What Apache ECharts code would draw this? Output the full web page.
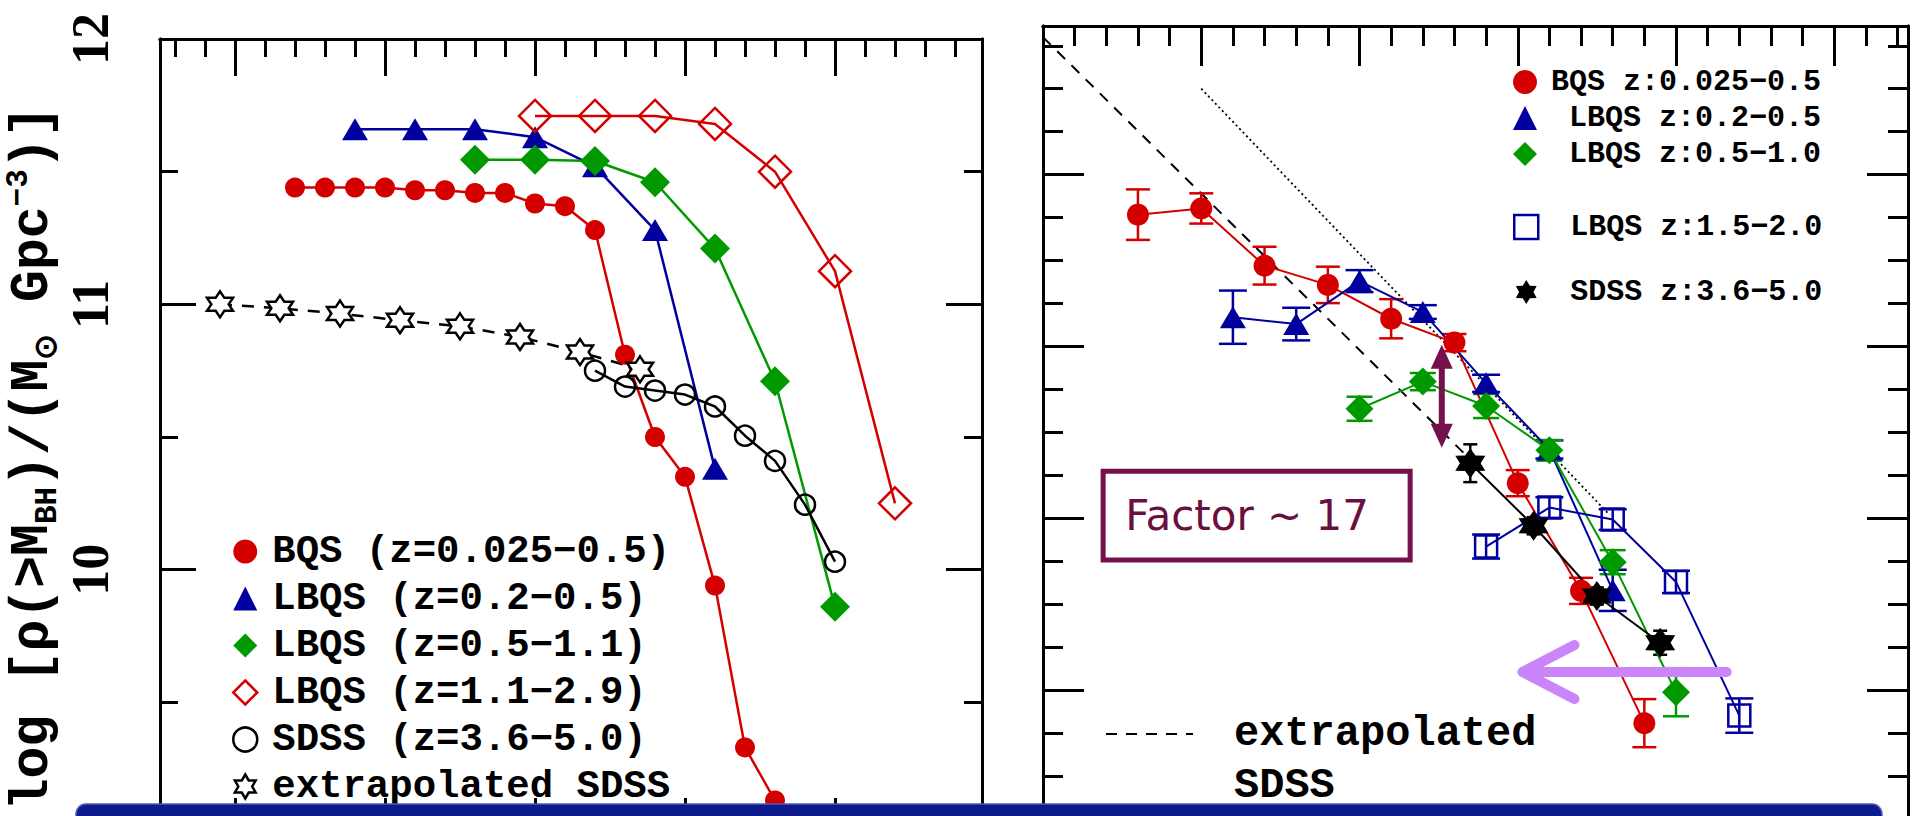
<!DOCTYPE html>
<html><head><meta charset="utf-8">
<script src="https://cdn.jsdelivr.net/npm/echarts@6/dist/echarts.min.js"></script>
<style>html,body{margin:0;padding:0;background:#fff;overflow:hidden}#c{width:1915px;height:816px}</style>
</head><body><div id="c"></div>
<script>
// ---------------- LEFT PANEL: cumulative mass density ----------------
const leftBQS   = [[8.2,11.44],[8.3,11.44],[8.4,11.44],[8.5,11.44],[8.6,11.43],[8.7,11.43],[8.8,11.42],[8.9,11.42],[9.0,11.38],[9.1,11.37],[9.2,11.28],[9.3,10.81],[9.4,10.50],[9.5,10.35],[9.6,9.94],[9.7,9.33],[9.8,9.13]];
const leftLBQS1 = [[8.4,11.66],[8.6,11.66],[8.8,11.66],[9.0,11.63],[9.2,11.52],[9.4,11.28],[9.6,10.38]];
const leftLBQS2 = [[8.8,11.545],[9.0,11.545],[9.2,11.54],[9.4,11.46],[9.6,11.21],[9.8,10.71],[10.0,9.86]];
const leftLBQS3 = [[9.0,11.71],[9.2,11.71],[9.4,11.71],[9.6,11.68],[9.8,11.50],[10.0,11.125],[10.2,10.25]];
const leftSDSS  = [[9.2,10.75],[9.3,10.69],[9.4,10.675],[9.5,10.66],[9.6,10.615],[9.7,10.505],[9.8,10.41],[9.9,10.245],[10.0,10.03]];
const leftExtrap= [[7.95,11.0],[8.15,10.985],[8.35,10.965],[8.55,10.94],[8.75,10.917],[8.95,10.877],[9.15,10.82],[9.35,10.755]];
const leftNames = ['BQS (z=0.025\u22120.5)','LBQS (z=0.2\u22120.5)','LBQS (z=0.5\u22121.1)','LBQS (z=1.1\u22122.9)','SDSS (z=3.6\u22125.0)','extrapolated SDSS'];
const leftYLabels = [10, 11, 12];
const leftXMajor = [8, 8.5, 9, 9.5, 10];
const leftYMajor = [9, 10, 11, 12];
const leftYMinor = [9.5, 10.5, 11.5];

// ---------------- RIGHT PANEL: mass functions ----------------
const rightBQS     = [[7.8,-6.233],[8.0,-6.197],[8.2,-6.53],[8.4,-6.642],[8.6,-6.839],[8.8,-6.978],[9.0,-7.796],[9.2,-8.423],[9.4,-9.193]];
const rightBQSErr  = [0.147,0.088,0.11,0.106,0.114,0.05,0.076,0.076,0.14];
const rightLBQS1   = [[8.1,-6.83],[8.3,-6.87],[8.5,-6.62],[8.7,-6.80],[8.9,-7.215],[9.1,-7.60],[9.3,-8.42]];
const rightLBQS1Err= [0.155,0.095,0.064,0.04,0.05,0.053,0.12];
const rightLBQS2   = [[8.5,-7.363],[8.7,-7.205],[8.9,-7.347],[9.1,-7.605],[9.3,-8.256],[9.5,-9.013]];
const rightLBQS2Err= [0.07,0.05,0.07,0.06,0.07,0.14];
const rightLBQS3   = [[8.9,-8.165],[9.1,-7.938],[9.3,-8.008],[9.5,-8.371],[9.7,-9.149]];
const rightLBQS3Err= [0.07,0.06,0.06,0.065,0.1];
const rightSDSS    = [[8.85,-7.68],[9.05,-8.044],[9.25,-8.453],[9.45,-8.725]];
const rightSDSSErr = [0.11,0.05,0.05,0.07];
const rightExtrap  = [[7.5,-5.2],[8.84,-7.64]];
const rightDotted  = [[8.0,-5.5],[9.29,-7.98]];
const rightNamesA  = ['BQS z:0.025\u22120.5','LBQS z:0.2\u22120.5','LBQS z:0.5\u22121.0'];
const rightNamesB  = ['LBQS z:1.5\u22122.0','SDSS z:3.6\u22125.0'];
const rightNameC   = 'extrapolated\u00A0SDSS';
const rightXMajor = [8, 8.5, 9, 9.5, 10];
const rightYMajor = [-6, -7, -8, -9, -10];
const annotText = 'Factor ~ 17';

// ---------------- helpers ----------------
function steps(a, b, d, skip){ const r=[]; for(let i=0;;i++){ const v=+(a+i*d).toFixed(3); if(v>b+1e-9) break; if(!skip.some(s=>Math.abs(s-v)<1e-6)) r.push(v);} return r; }
const leftXMinor  = steps(7.8, 10.4, 0.1, leftXMajor);
const rightXMinor = steps(7.6, 10.2, 0.1, rightXMajor.concat([7.5]));
const rightYMinor = steps(-10, -5.25, 0.25, rightYMajor).filter(v=>v<-5.1);

const RED='#d40000', NAVY='#00009e', GREEN='#009a00', BLACK='#000', MAROON='#74104a', LILAC='#cc84fa';
const STAR_OPEN='path://M50 0 L64.45 25 L93.3 25 L78.9 50 L93.3 75 L64.45 75 L50 100 L35.55 75 L6.7 75 L21.1 50 L6.7 25 L35.55 25 Z';
const STAR_FILL='path://M50 0 L65 24 L93.3 25 L80 50 L93.3 75 L65 76 L50 100 L35 76 L6.7 75 L20 50 L6.7 25 L35 24 Z';

function ax(grid, pos, min, max, ticks, len, extra){
  return Object.assign({type:'value', gridIndex:grid, position:pos, min:min, max:max,
    axisLine:{show:true, onZero:false, lineStyle:{color:'#000', width:3}},
    axisTick:{show:true, inside:true, length:len, customValues:ticks, lineStyle:{color:'#000', width:3}},
    axisLabel:{show:false}, splitLine:{show:false}, splitArea:{show:false}}, extra||{});
}
const LX=[7.75,10.49], LY=[9,12], RX=[7.5,10.233], RY=[-10,-5.135];
const xAxes=[
  ax(0,'bottom',LX[0],LX[1],leftXMajor,37), ax(0,'top',LX[0],LX[1],leftXMajor,37),
  ax(0,'bottom',LX[0],LX[1],leftXMinor,18), ax(0,'top',LX[0],LX[1],leftXMinor,18),
  ax(1,'bottom',RX[0],RX[1],rightXMajor,40), ax(1,'top',RX[0],RX[1],rightXMajor,40),
  ax(1,'bottom',RX[0],RX[1],rightXMinor,20), ax(1,'top',RX[0],RX[1],rightXMinor,20)
];
const yAxes=[
  ax(0,'left',LY[0],LY[1],leftYMajor,36,{axisLabel:{show:true, customValues:leftYLabels, rotate:90, margin:44,
      fontFamily:'Liberation Serif', fontSize:52, fontWeight:'bold', color:'#000'}}),
  ax(0,'right',LY[0],LY[1],leftYMajor,36),
  ax(0,'left',LY[0],LY[1],leftYMinor,18), ax(0,'right',LY[0],LY[1],leftYMinor,18),
  ax(1,'left',RY[0],RY[1],rightYMajor,41), ax(1,'right',RY[0],RY[1],rightYMajor,41),
  ax(1,'left',RY[0],RY[1],rightYMinor,20), ax(1,'right',RY[0],RY[1],rightYMinor,20)
];

function ln(name, data, xi, sym, size, item, line, extra){
  return Object.assign({name:name, type:'line', data:data, xAxisIndex:xi, yAxisIndex:xi, symbol:sym, symbolSize:size,
    showSymbol:true, itemStyle:item, lineStyle:line, z:3, animation:false, emphasis:{disabled:true}}, extra||{});
}
const OPEN = 'rgba(255,255,255,0)';
function errBar(color, cap, lw){
  return function(params, api){
    const x=api.value(0), y=api.value(1), e=api.value(2);
    const a=api.coord([x,y+e]), b=api.coord([x,y-e]);
    const h=cap/2, st={stroke:color, lineWidth:lw};
    return {type:'group', children:[
      {type:'line', shape:{x1:a[0],y1:a[1],x2:b[0],y2:b[1]}, style:st},
      {type:'line', shape:{x1:a[0]-h,y1:a[1],x2:a[0]+h,y2:a[1]}, style:st},
      {type:'line', shape:{x1:b[0]-h,y1:b[1],x2:b[0]+h,y2:b[1]}, style:st}]};
  };
}
function eb(name, pts, errs, color, cap){
  return {name:name, type:'custom', xAxisIndex:4, yAxisIndex:4, z:2, animation:false,
    data: pts.map((p,i)=>[p[0],p[1],errs[i]]), encode:{x:0,y:1}, renderItem: errBar(color, cap, 2.5)};
}

const series=[
  ln(leftNames[0], leftBQS, 0, 'circle', 20, {color:RED}, {color:RED, width:2.5}),
  ln(leftNames[1], leftLBQS1, 0, 'triangle', [26,22], {color:NAVY}, {color:NAVY, width:2.5}),
  ln(leftNames[2], leftLBQS2, 0, 'diamond', [30,30], {color:GREEN}, {color:GREEN, width:2.5}),
  ln(leftNames[3], leftLBQS3, 0, 'diamond', [32,32], {color:OPEN, borderColor:RED, borderWidth:2.5}, {color:RED, width:2.5}),
  ln(leftNames[4], leftSDSS, 0, 'circle', 20, {color:OPEN, borderColor:BLACK, borderWidth:2.5}, {color:BLACK, width:2.5}),
  ln(leftNames[5], leftExtrap, 0, STAR_OPEN, 26, {color:'#fff', borderColor:BLACK, borderWidth:2.5}, {color:BLACK, width:2.5, type:[12,10]}),

  ln(rightNameC, rightExtrap, 4, 'none', 0, {color:BLACK}, {color:BLACK, width:2, type:[11,9]}, {z:1}),
  ln('dotted reference', rightDotted, 4, 'none', 0, {color:BLACK}, {color:BLACK, width:1.8, type:[2,3]}, {z:1}),
  eb('BQS err', rightBQS, rightBQSErr, RED, 24),
  eb('LBQS1 err', rightLBQS1, rightLBQS1Err, NAVY, 28),
  eb('LBQS2 err', rightLBQS2, rightLBQS2Err, GREEN, 26),
  eb('LBQS3 err', rightLBQS3, rightLBQS3Err, NAVY, 28),
  eb('SDSS err', rightSDSS, rightSDSSErr, BLACK, 14),
  ln(rightNamesA[0], rightBQS, 4, 'circle', 22, {color:RED}, {color:RED, width:2}),
  ln(rightNamesA[1], rightLBQS1, 4, 'triangle', [26,22], {color:NAVY}, {color:NAVY, width:2}),
  ln(rightNamesA[2], rightLBQS2, 4, 'diamond', [28,28], {color:GREEN}, {color:GREEN, width:2}),
  ln(rightNamesB[0], rightLBQS3, 4, 'rect', [22,22], {color:OPEN, borderColor:NAVY, borderWidth:2.5}, {color:NAVY, width:2}),
  ln(rightNamesB[1], rightSDSS, 4, STAR_FILL, 30, {color:BLACK}, {color:BLACK, width:2})
];

const monoL = {fontFamily:'Liberation Mono', fontWeight:'bold', color:'#000'};
const legends=[
  {orient:'vertical', left:232, top:532, padding:0, itemWidth:24, itemHeight:24, itemGap:8, selectedMode:false, symbolKeepAspect:true,
   textStyle:Object.assign({fontSize:39, padding:[0,0,0,10]}, monoL),
   data:[
    {name:leftNames[0], icon:'circle', itemStyle:{color:RED, borderWidth:0}},
    {name:leftNames[1], icon:'triangle', itemStyle:{color:NAVY, borderWidth:0}},
    {name:leftNames[2], icon:'diamond', itemStyle:{color:GREEN, borderWidth:0}},
    {name:leftNames[3], icon:'diamond', itemStyle:{color:OPEN, borderColor:RED, borderWidth:2.5}},
    {name:leftNames[4], icon:'circle', itemStyle:{color:OPEN, borderColor:BLACK, borderWidth:2.5}},
    {name:leftNames[5], icon:STAR_OPEN, itemStyle:{color:'#fff', borderColor:BLACK, borderWidth:2.5}}]},
  {orient:'vertical', left:1513, top:67, padding:0, itemWidth:24, itemHeight:24, itemGap:6, selectedMode:false, symbolKeepAspect:true,
   textStyle:Object.assign({fontSize:30, padding:[0,0,0,9]}, monoL),
   formatter:n=> n.indexOf('BQS')===0 ? n : '\u00A0'+n,
   data:[
    {name:rightNamesA[0], icon:'circle', itemStyle:{color:RED, borderWidth:0}},
    {name:rightNamesA[1], icon:'triangle', itemStyle:{color:NAVY, borderWidth:0}},
    {name:rightNamesA[2], icon:'diamond', itemStyle:{color:GREEN, borderWidth:0}}]},
  {orient:'vertical', left:1513, top:212, padding:0, itemWidth:24, itemHeight:24, itemGap:35, selectedMode:false, symbolKeepAspect:true,
   textStyle:Object.assign({fontSize:30, padding:[0,0,0,9]}, monoL),
   formatter:n=> '\u00A0'+n,
   data:[
    {name:rightNamesB[0], icon:'rect', itemStyle:{color:OPEN, borderColor:NAVY, borderWidth:2.5}},
    {name:rightNamesB[1], icon:STAR_FILL, itemStyle:{color:BLACK, borderWidth:0}}]},
  {orient:'vertical', left:1105, top:656, padding:0, itemWidth:87, itemHeight:10, selectedMode:false,
   textStyle:Object.assign({fontSize:42, lineHeight:52, padding:[0,0,0,36]}, monoL),
   formatter:n=> '\u00A0\n' + n.replace('\u00A0','\n'),
   data:[{name:rightNameC, itemStyle:{color:OPEN, borderWidth:0}}]}
];

const chart = echarts.init(document.getElementById('c'), null, {renderer:'svg', width:1915, height:816});
chart.setOption({
  backgroundColor:'#fff', animation:false,
  grid:[
    {left:160, top:39, width:822, height:796, outerBoundsMode:'none', containLabel:false},
    {left:1043, top:26, width:865, height:835.8, outerBoundsMode:'none', containLabel:false}
  ],
  xAxis:xAxes, yAxis:yAxes, legend:legends, series:series
});

// ---------------- annotations (placed in data coordinates) ----------------
const F={xAxisIndex:4, yAxisIndex:4};
const P=(x,y)=>chart.convertToPixel(F,[x,y]);
const arrowX=8.76, arrowTop=-6.99, arrowBot=-7.59;
const boxTL=P(7.69,-7.726), boxBR=P(8.66,-8.244);
const aT=P(arrowX,arrowTop), aB=P(arrowX,arrowBot);
const pinkTail=P(9.66,-8.895), pinkTip=P(9.015,-8.895);
const hl=24, hw=11;
const pinkStyle={stroke:LILAC, fill:null, lineWidth:10, lineCap:'round', lineJoin:'round'};
const gfx=[
  {type:'text', x:33, y:458, rotation:Math.PI/2, z:50,
   style:{text:'{n|log [\u03C1(>M}{s|BH}{n|)/(M}{s|\u2299}{n| Gpc}{p|\u22123}{n|)]}', align:'center', verticalAlign:'middle',
     rich:{n:{fontFamily:'Liberation Mono', fontWeight:'bold', fontSize:53, fill:'#000', lineHeight:60},
           s:{fontFamily:'Liberation Mono', fontWeight:'bold', fontSize:31, fill:'#000', verticalAlign:'bottom'},
           p:{fontFamily:'Liberation Mono', fontWeight:'bold', fontSize:31, fill:'#000', verticalAlign:'top'}}}},
  {type:'rect', z:60, shape:{x:boxTL[0], y:boxTL[1], width:boxBR[0]-boxTL[0], height:boxBR[1]-boxTL[1]},
   style:{fill:'#fff', stroke:MAROON, lineWidth:5}},
  {type:'text', z:61, x:boxTL[0]+22, y:(boxTL[1]+boxBR[1])/2,
   style:{text:annotText, fontFamily:'DejaVu Sans', fontSize:42, fill:'#6a0f40', verticalAlign:'middle', align:'left'}},
  {type:'line', z:60, shape:{x1:aT[0], y1:aT[1]+hl-2, x2:aB[0], y2:aB[1]-hl+2}, style:{stroke:MAROON, lineWidth:6}},
  {type:'polygon', z:60, shape:{points:[[aT[0],aT[1]],[aT[0]-hw,aT[1]+hl],[aT[0]+hw,aT[1]+hl]]}, style:{fill:MAROON}},
  {type:'polygon', z:60, shape:{points:[[aB[0],aB[1]],[aB[0]-hw,aB[1]-hl],[aB[0]+hw,aB[1]-hl]]}, style:{fill:MAROON}},
  {type:'line', z:62, shape:{x1:pinkTail[0], y1:pinkTail[1], x2:pinkTip[0]+3, y2:pinkTip[1]}, style:Object.assign({}, pinkStyle)},
  {type:'polyline', z:62, shape:{points:[[pinkTip[0]+52,pinkTip[1]-27],[pinkTip[0],pinkTip[1]],[pinkTip[0]+52,pinkTip[1]+27]]},
   style:Object.assign({}, pinkStyle)},
  {type:'rect', z:100, shape:{x:76, y:804, width:1806, height:40, r:10},
   style:{fill:'#0c1a8b', stroke:'#4d5cb0', lineWidth:1.5}}
];
chart.setOption({graphic:gfx});
</script></body></html>
